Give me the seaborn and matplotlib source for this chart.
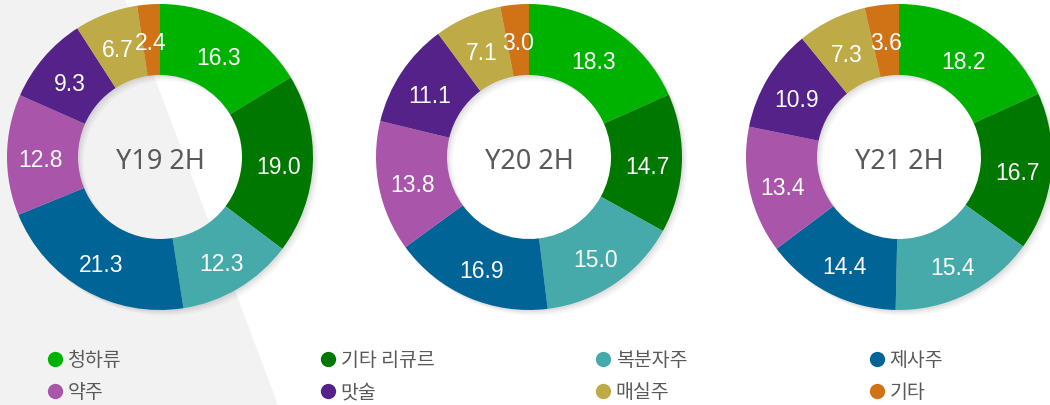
import matplotlib
matplotlib.use("Agg")
import matplotlib.pyplot as plt
import seaborn as sns
import numpy as np
from matplotlib.patches import Polygon
from matplotlib.lines import Line2D

categories = ["청하류", "기타 리큐르", "복분자주", "제사주", "약주", "맛술", "매실주", "기타"]
periods = ["Y19 2H", "Y20 2H", "Y21 2H"]
y19 = [16.3, 19.0, 12.3, 21.3, 12.8, 9.3, 6.7, 2.4]
y20 = [18.3, 14.7, 15.0, 16.9, 13.8, 11.1, 7.1, 3.0]
y21 = [18.2, 16.7, 15.4, 14.4, 13.4, 10.9, 7.3, 3.6]
colors = ["#00B200", "#007800", "#46AAAA", "#006496", "#A855AA", "#55228A", "#BEAA46", "#CF7316"]

sns.set_theme(style="white")
plt.rcParams['font.family'] = ['Noto Sans CJK KR', 'DejaVu Sans']

W, H = 1050, 406
fig = plt.figure(figsize=(W / 100, H / 100), dpi=100)
fig.patch.set_facecolor("white")

# light gray background band
poly = Polygon([(0, 0), (0, 1), (125 / W, 1), (278 / W, 0)], closed=True,
               transform=fig.transFigure, facecolor="#F2F2F2", edgecolor="none", zorder=-10)
fig.patches.append(poly)

centers = [160, 529, 899]
cy = 158
R = 153
inner = 82
width = (R - inner) / R
dy = -0.027  # small downward text shift

for cx, name, vals in zip(centers, periods, [y19, y20, y21]):
    ax = fig.add_axes([(cx - R) / W, (H - cy - R) / H, 2 * R / W, 2 * R / H])
    ax.set_facecolor("none")
    # soft shadow
    for k, a in enumerate([0.05, 0.04, 0.03]):
        off = 0.012 * (k + 1)
        sh, _ = ax.pie(vals, colors=["#000000"] * len(vals), startangle=90, counterclock=False,
                       radius=1.0, center=(off, -off),
                       wedgeprops=dict(width=width, edgecolor="none", alpha=a))
        for s in sh:
            s.set_clip_on(False)
    wedges, _ = ax.pie(vals, colors=colors, startangle=90, counterclock=False,
                       radius=1.0, wedgeprops=dict(width=width, edgecolor="none"))
    for w in wedges:
        w.set_clip_on(False)
    for w, v in zip(wedges, vals):
        ang = np.deg2rad((w.theta1 + w.theta2) / 2)
        r = 1 - width / 2 + 0.01
        ax.text(r * np.cos(ang), r * np.sin(ang) + dy, f"{v:.1f}", ha="center", va="center",
                color="white", fontsize=16.5, family=["Liberation Sans", "DejaVu Sans"])
    ax.text(0, dy, name, ha="center", va="center", color="#595959", fontsize=19.5,
            family=["Noto Sans", "DejaVu Sans"])
    ax.set_xlim(-1.0, 1.0)
    ax.set_ylim(-1.0, 1.0)
    ax.set_aspect("equal")
    ax.axis("off")

# legend: 4 columns x 2 rows, one entry per legend
marker_x = [55, 328, 603, 877]
row_y = [361, 393]
fs = 14
for i, cat in enumerate(categories):
    r, c = divmod(i, 4)
    h = Line2D([0], [0], marker="o", linestyle="none", markersize=11,
               markerfacecolor=colors[i], markeredgecolor="none", label=cat)
    x0 = marker_x[c] - fs * 100 / 72 / 2
    leg = fig.legend(handles=[h], loc="center left",
                     bbox_to_anchor=(x0 / W, 1 - row_y[r] / H), frameon=False,
                     handletextpad=0.15, handlelength=1.0,
                     borderaxespad=0, borderpad=0, fontsize=fs)
    for t in leg.get_texts():
        t.set_color("#595959")

fig.savefig("out.png", dpi=100, facecolor=fig.get_facecolor())
